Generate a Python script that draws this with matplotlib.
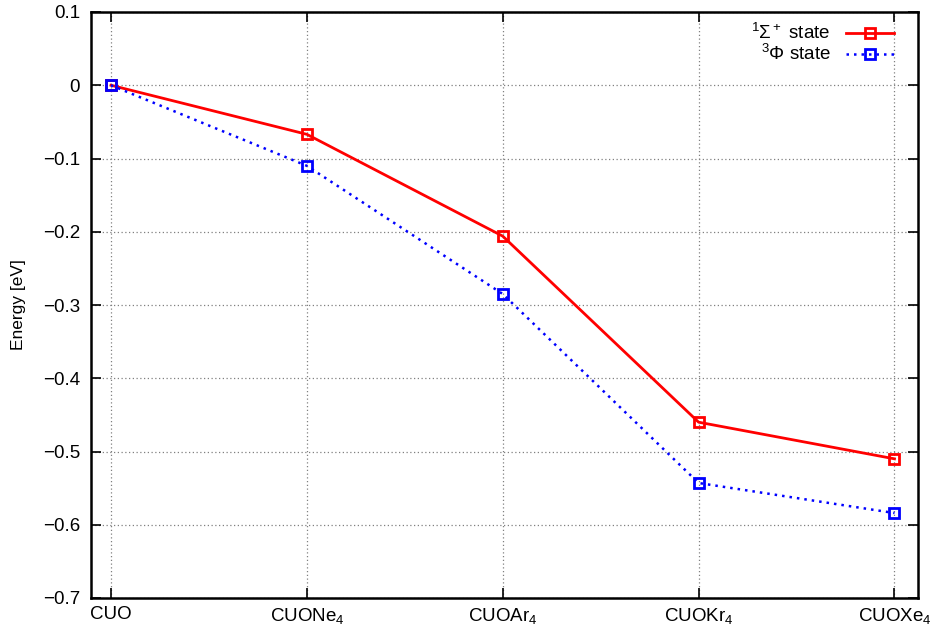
import matplotlib
matplotlib.use("Agg")
import matplotlib.pyplot as plt
import numpy as np

labels = ['CUO', r'CUONe$_4$', r'CUOAr$_4$', r'CUOKr$_4$', r'CUOXe$_4$']
sigma = [0.0, -0.067, -0.206, -0.460, -0.510]
phi = [0.0, -0.110, -0.285, -0.543, -0.584]
yticks = [-0.7, -0.6, -0.5, -0.4, -0.3, -0.2, -0.1, 0.0, 0.1]

plt.rcParams['font.family'] = ['Liberation Sans', 'DejaVu Sans']
plt.rcParams['mathtext.fontset'] = 'custom'
plt.rcParams['mathtext.rm'] = 'Liberation Sans'
plt.rcParams['mathtext.it'] = 'Liberation Sans:italic'

fs = 13.5
fig = plt.figure(figsize=(9.32, 6.26), dpi=100)
ax = fig.add_axes([91/932, 28/626, 827/932, 586/626])
x = np.arange(len(labels))

ax.plot(x, sigma, color='red', lw=2, marker='s', ms=7, mfc='none', mew=2,
        label=r'$^1\Sigma^+$ state')
ax.plot(x, phi, color='blue', lw=1.8, ls=(0, (1, 2)), marker='s', ms=7, mfc='none',
        mew=2, label=r'$^3\Phi$ state')

ax.set_xlim(-0.102, 4.12)
ax.set_ylim(-0.7, 0.1)
ax.set_xticks(x)
ax.set_xticklabels(labels, fontsize=fs)
ax.set_yticks(yticks)
ax.set_yticklabels([('%g' % v).replace('-', '\u2212') for v in yticks], fontsize=fs)
ax.set_ylabel('Energy [eV]', fontsize=fs - 1)
ax.yaxis.set_label_coords(-0.078, 0.5)
ax.tick_params(direction='in', top=True, right=True, length=7, width=1.2, pad=6)
ax.tick_params(axis='y', pad=8)
ax.grid(True, color='gray', ls=(0, (1, 2)), lw=0.9)
for s in ax.spines.values():
    s.set_linewidth(1.8)

ax.legend(loc='upper right', frameon=False, markerfirst=False, fontsize=fs,
          handlelength=2.6, handletextpad=0.8, borderaxespad=0.2,
          labelspacing=0.05, bbox_to_anchor=(0.985, 1.0))

fig.savefig('out.png', dpi=100)
